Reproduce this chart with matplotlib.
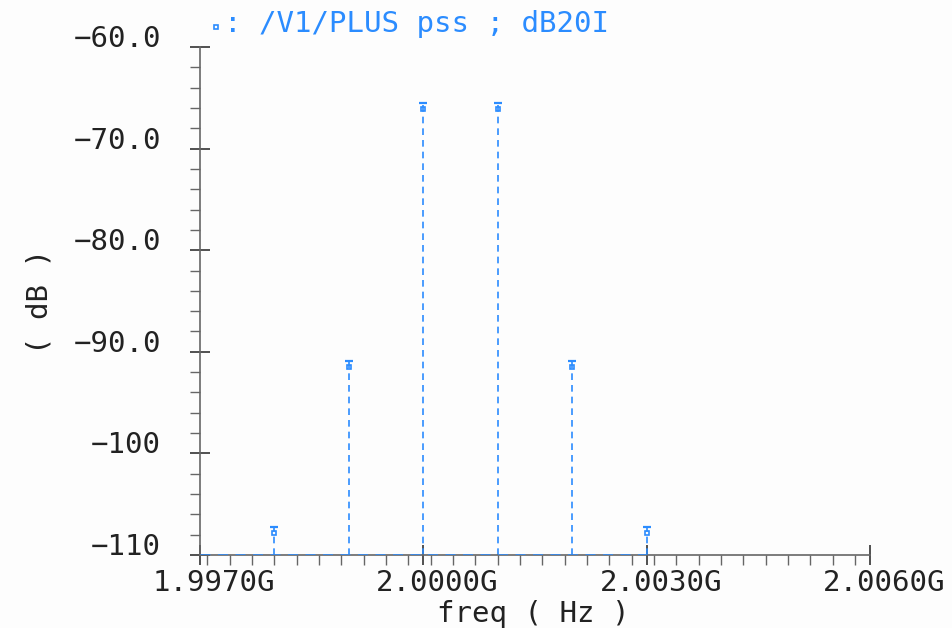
import matplotlib
matplotlib.use("Agg")
import matplotlib.pyplot as plt
from matplotlib.ticker import MultipleLocator, FixedLocator
from matplotlib.transforms import ScaledTranslation
import numpy as np

# harmonic tones (GHz, dB)
freq_ghz = [1.998, 1.999, 2.000, 2.001, 2.002, 2.003]
level_db = [-107.2, -90.9, -65.5, -65.5, -90.9, -107.2]

y_ticks = [-110, -100, -90, -80, -70, -60]
y_labels = ["\u2212110", "\u2212100", "\u221290.0", "\u221280.0", "\u221270.0", "\u221260.0"]
x_ticks = [1.997, 2.000, 2.003, 2.006]
x_labels = ["1.9970G", "2.0000G", "2.0030G", "2.0060G"]

blue = "#2b8cff"
gray = "#666666"
font = "DejaVu Sans Mono"

fig = plt.figure(figsize=(9.53, 6.28), dpi=100)
fig.patch.set_facecolor("#fdfdfd")
ax = fig.add_axes([200/953, 1-555/628, 670/953, 508/628])
ax.set_facecolor("#fdfdfd")

base = y_ticks[0]
ax.vlines(freq_ghz, base, level_db, colors=blue, linestyles=(0, (4, 3)), lw=1.2)
ax.hlines(base, x_ticks[0], freq_ghz[-1], colors=blue, linestyles=(0, (4, 3)), lw=1.8, zorder=3)
ax.plot(freq_ghz, level_db, ls="none", marker="_", ms=6, mew=1.6, color=blue, clip_on=False)
ax.plot(freq_ghz, np.array(level_db) - 0.6, ls="none", marker="s", ms=3.5, mew=1.2,
        mfc="none", mec=blue, clip_on=False)

ax.set_xlim(x_ticks[0], x_ticks[-1])
ax.set_ylim(y_ticks[0], y_ticks[-1])

for s in ["top", "right"]:
    ax.spines[s].set_visible(False)
for s in ["left", "bottom"]:
    ax.spines[s].set_color(gray)
    ax.spines[s].set_linewidth(1.2)

ax.yaxis.set_major_locator(FixedLocator(y_ticks))
ax.yaxis.set_minor_locator(MultipleLocator(2))
ax.set_yticklabels(y_labels)
ax.xaxis.set_major_locator(FixedLocator(x_ticks))
ax.xaxis.set_minor_locator(MultipleLocator(0.0003))
ax.set_xticklabels(x_labels)

ax.tick_params(axis="y", which="major", direction="inout", length=14, width=1.2,
               color="#333333", pad=21, labelsize=21, labelcolor="#222222")
ax.tick_params(axis="y", which="minor", direction="out", length=7, width=1.0, color=gray)
ax.tick_params(axis="x", which="major", direction="inout", length=14, width=1.2,
               color="#333333", pad=3, labelsize=21, labelcolor="#222222")
ax.tick_params(axis="x", which="minor", direction="out", length=7, width=1.0, color=gray)

for lab in ax.get_yticklabels():
    lab.set_fontfamily(font)
    lab.set_transform(lab.get_transform() + ScaledTranslation(0, 0.11, fig.dpi_scale_trans))
for lab in ax.get_xticklabels():
    lab.set_fontfamily(font)
    lab.set_transform(lab.get_transform() + ScaledTranslation(0.14, 0, fig.dpi_scale_trans))

ax.set_ylabel("( dB )", fontsize=21, family=font, color="#222222")
ax.yaxis.set_label_coords(-0.219, 0.5)
ax.set_xlabel("freq ( Hz )", fontsize=21, family=font, color="#222222")
ax.xaxis.set_label_coords(0.497, -0.089)

# trace legend at top
fig.lines.append(plt.Line2D([216/953], [1-27/628], transform=fig.transFigure, marker="s",
                            ms=3, mfc="none", mec=blue, mew=1.2))
fig.text(224/953, 1-24/628, ": /V1/PLUS pss ; dB20I", color=blue, fontsize=21,
         family=font, va="center", ha="left")

fig.savefig("out.png", dpi=100, facecolor=fig.get_facecolor())
